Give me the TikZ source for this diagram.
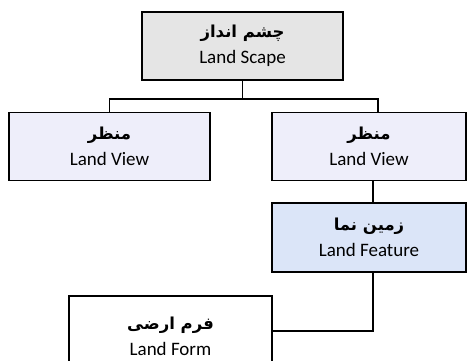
\documentclass[tikz,border=0pt]{standalone}
\usepackage{fontspec}
\setmainfont{Carlito}
\newfontfamily\fa[Script=Arabic]{DejaVu Sans}
\TeXXeTstate=1
\definecolor{topgray}{HTML}{E5E5E5}
\definecolor{lav}{HTML}{EEEEFA}
\definecolor{featblue}{HTML}{DBE5F8}
\newcommand{\fatext}[1]{{\fa\bfseries\fontsize{16.5}{16.5}\selectfont\beginR #1\endR}}
\begin{document}
\begin{tikzpicture}[x=1pt,y=-1pt,
  box/.style={draw=black, line width=1.8pt, align=center, inner sep=0pt,
    font=\fontsize{19}{26}\selectfont},
  link/.style={draw=black, line width=1.8pt}]
\clip (0,0) rectangle (467,360);
\node[box, fill=topgray, minimum width=201pt, minimum height=68pt] (top) at (242.5,46)
  {\fatext{چشم انداز}\\Land Scape};
\node[box, fill=lav, minimum width=201pt, minimum height=68pt] (left) at (109.5,146.5)
  {\fatext{منظر}\\Land View};
\node[box, fill=lav, minimum width=194pt, minimum height=68pt] (right) at (369,146.5)
  {\fatext{منظر}\\Land View};
\node[box, fill=featblue, minimum width=194pt, minimum height=69pt] (feat) at (369,237.5)
  {\fatext{زمین نما}\\Land Feature};
\node[box, fill=white, minimum width=203pt, minimum height=80pt] (form) at (170.5,336)
  {\fatext{فرم ارضی}\\Land Form};
\draw[link] (top.south) -- ++(0,18) coordinate (j);
\draw[link] (left.north) |- (j) -| ([xshift=9pt]right.north);
\draw[link] ([xshift=4pt]right.south) -- ([xshift=4pt]feat.north);
\draw[link] ([xshift=4pt]feat.south) |- ([yshift=5pt]form.east);
\end{tikzpicture}
\end{document}
